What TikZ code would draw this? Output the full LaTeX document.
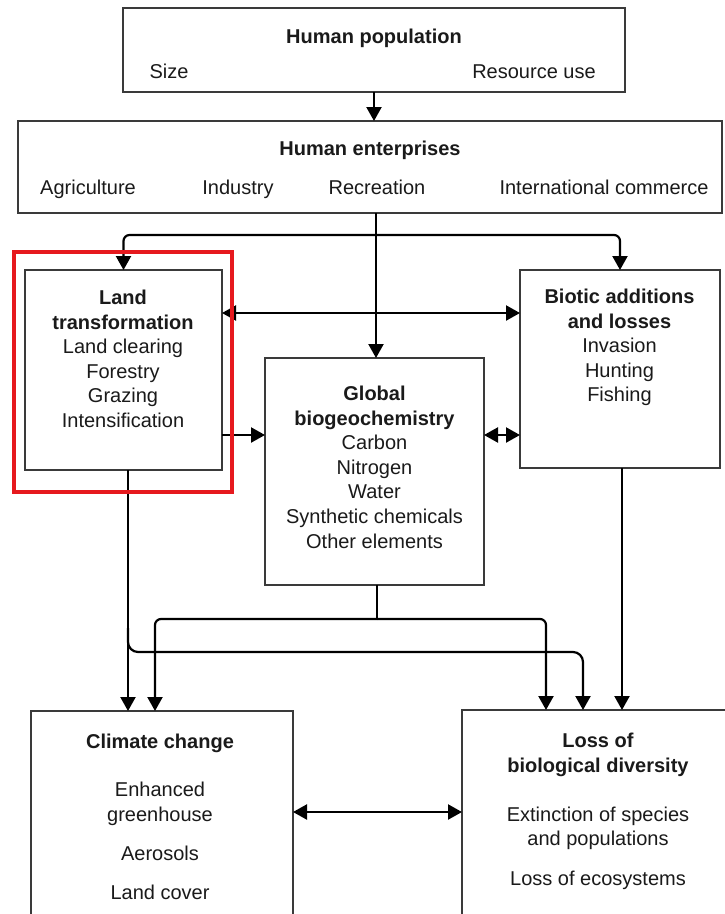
\documentclass[tikz,border=0pt]{standalone}
\usepackage{fontspec}
\setmainfont{Liberation Sans}
\usetikzlibrary{arrows.meta}
\definecolor{ink}{HTML}{1A1A1A}
\definecolor{frame}{HTML}{3A3A3A}
\definecolor{hilite}{RGB}{230,25,30}
\begin{document}
\begin{tikzpicture}[x=1pt,y=-1pt,
  box/.style={draw=frame, line width=1.4pt, inner sep=0pt, outer sep=0pt},
  txt/.style={text=ink, font=\fontsize{20}{24.6}\selectfont, align=center, inner sep=0pt, outer sep=0pt},
  link/.style={draw=black, line width=2.2pt},
  arr/.style={link, -{Triangle[length=14pt,width=15pt]}},
  dbl/.style={link, {Triangle[length=14pt,width=15pt]}-{Triangle[length=14pt,width=15pt]}},
]
\useasboundingbox[fill=white] (0,0) rectangle (724,914);

% ---- boxes ----
\node[box, minimum width=502pt, minimum height=84pt]  (pop)     at (374,50)    {};
\node[box, minimum width=704pt, minimum height=92pt]  (ent)     at (370,167)   {};
\node[box, minimum width=197pt, minimum height=200pt] (land)    at (123.5,370) {};
\node[box, minimum width=200pt, minimum height=198pt] (biotic)  at (620,369)   {};
\node[box, minimum width=219pt, minimum height=227pt] (geo)     at (374.5,471.5) {};
\node[box, minimum width=262pt, minimum height=224pt] (climate) at (162,823)   {};
\node[box, minimum width=283pt, minimum height=225pt] (loss)    at (603.5,822.5) {};

% ---- texts ----
\node[txt, anchor=base] (popT)  at (374,43) {\textbf{Human population}};
\node[txt, anchor=base] (popS)  at (169,78) {Size};
\node[txt, anchor=base] (popR)  at (534,78) {Resource use};

\node[txt, anchor=base] (entT)  at (370,155) {\textbf{Human enterprises}};
\node[txt, anchor=base] (entA)  at (88,194)  {Agriculture};
\node[txt, anchor=base] (entI)  at (238,194) {Industry};
\node[txt, anchor=base] (entR)  at (377,194) {Recreation};
\node[txt, anchor=base] (entC)  at (604,194) {International commerce};

\node[txt, anchor=north] (landT) at (123,290)
  {\textbf{Land}\\\textbf{transformation}\\Land clearing\\Forestry\\Grazing\\Intensification};
\node[txt, anchor=north] (bioT) at (619.5,289)
  {\textbf{Biotic additions}\\\textbf{and losses}\\Invasion\\Hunting\\Fishing};
\node[txt, anchor=north] (geoT) at (374.5,386)
  {\textbf{Global}\\\textbf{biogeochemistry}\\Carbon\\Nitrogen\\Water\\Synthetic chemicals\\Other elements};
\node[txt, anchor=north] (cliT) at (160,734)
  {\textbf{Climate change}\\[23.4pt]Enhanced\\greenhouse\\[14.4pt]Aerosols\\[14.4pt]Land cover};
\node[txt, anchor=north] (lossT) at (598,733)
  {\textbf{Loss of}\\\textbf{biological diversity}\\[24.4pt]Extinction of species\\and populations\\[15.4pt]Loss of ecosystems};

% ---- helper coordinates ----
\coordinate (trunk) at (376,0);
\coordinate (fork)  at (376,235);
\coordinate (row1)  at (0,313);
\coordinate (row2)  at (0,435);
\coordinate (row3)  at (0,812);
\coordinate (gfork) at (377,619);
\coordinate (cx1)   at (128,0);
\coordinate (cx2)   at (155,0);
\coordinate (lx1)   at (546,0);
\coordinate (lx2)   at (583,0);
\coordinate (lx3)   at (622,0);
\coordinate (bstart) at (128,628);
\coordinate (branch) at (128,652);

% ---- connectors ----
\draw[arr] (pop.south) -- (pop.south |- ent.north);
\draw[arr] (ent.south -| trunk) -- (geo.north -| trunk);
\draw[arr, rounded corners=6pt] (fork) -| (land.north);
\draw[arr, rounded corners=6pt] (fork) -| (biotic.north);

\draw[dbl] (land.east |- row1) -- (biotic.west |- row1);
\draw[arr] (land.east |- row2) -- (geo.west |- row2);
\draw[dbl] (geo.east |- row2) -- (biotic.west |- row2);

\draw[link] (geo.south -| gfork) -- (gfork);
\draw[arr, rounded corners=6pt] (gfork) -| (climate.north -| cx2);
\draw[arr, rounded corners=6pt] (gfork) -| (loss.north -| lx1);

\draw[arr] (land.south -| cx1) -- (climate.north -| cx1);
\draw[arr, rounded corners=10pt] (bstart) |- (branch -| lx2) -- (loss.north -| lx2);

\draw[arr] (biotic.south -| lx3) -- (loss.north -| lx3);

\draw[dbl] (climate.east |- row3) -- (loss.west |- row3);

% ---- highlight frame ----
\draw[hilite, line width=3.5pt] (14,252) rectangle (232,492);
\end{tikzpicture}
\end{document}
